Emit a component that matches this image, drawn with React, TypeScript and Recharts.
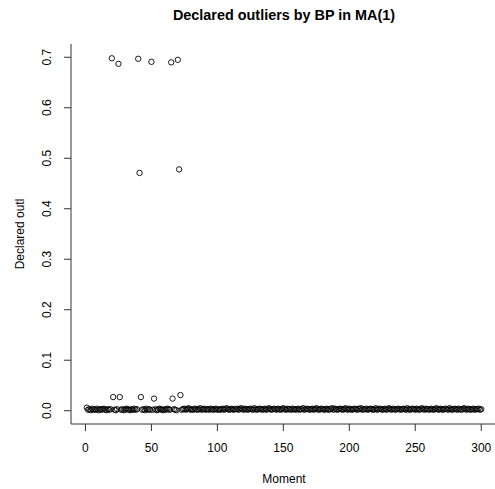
import React from "react";
import { ScatterChart, Scatter, XAxis, YAxis } from "recharts";

const TITLE = "Declared outliers by BP in MA(1)";
const X_LABEL = "Moment";
const Y_LABEL = "Declared outl";

const xTicks = [0, 50, 100, 150, 200, 250, 300];
const yTicks = [0, 0.1, 0.2, 0.3, 0.4, 0.5, 0.6, 0.7];
const yTickLabels = ["0.0", "0.1", "0.2", "0.3", "0.4", "0.5", "0.6", "0.7"];

// Declared outlier value for moments 1..300
const declared = [
  0.006, 0.002, 0.003, 0.001, 0.004, 0.002, 0.003, 0.002, 0.004, 0.001, 0.003, 0.002, 0.003, 0.004, 0.002, 0.001, 0.003, 0.002, 0.003, 0.698,
  0.027, 0.002, 0.001, 0.003, 0.687, 0.027, 0.002, 0.003, 0.001, 0.002, 0.004, 0.003, 0.002, 0.001, 0.003, 0.002, 0.004, 0.002, 0.003, 0.697,
  0.471, 0.027, 0.002, 0.003, 0.001, 0.004, 0.002, 0.003, 0.002, 0.691, 0.002, 0.024, 0.003, 0.001, 0.002, 0.004, 0.003, 0.002, 0.001, 0.003,
  0.002, 0.004, 0.003, 0.002, 0.690, 0.024, 0.003, 0.002, 0.001, 0.695, 0.478, 0.031, 0.002, 0.003, 0.004, 0.002, 0.003, 0.005, 0.003, 0.002,
  0.003, 0.002, 0.004, 0.003, 0.002, 0.003, 0.005, 0.002, 0.003, 0.004, 0.002, 0.003, 0.003, 0.002, 0.004, 0.003, 0.002, 0.003, 0.004, 0.002,
  0.003, 0.002, 0.003, 0.004, 0.002, 0.003, 0.005, 0.003, 0.002, 0.003, 0.004, 0.002, 0.003, 0.003, 0.004, 0.002, 0.003, 0.005, 0.003, 0.002,
  0.004, 0.003, 0.002, 0.003, 0.004, 0.003, 0.002, 0.005, 0.003, 0.002, 0.003, 0.004, 0.003, 0.002, 0.003, 0.004, 0.002, 0.003, 0.005, 0.003,
  0.002, 0.003, 0.004, 0.003, 0.002, 0.004, 0.003, 0.002, 0.003, 0.005, 0.003, 0.002, 0.004, 0.003, 0.003, 0.002, 0.004, 0.003, 0.002, 0.003,
  0.004, 0.002, 0.003, 0.003, 0.005, 0.002, 0.003, 0.004, 0.003, 0.002, 0.003, 0.004, 0.002, 0.003, 0.005, 0.003, 0.002, 0.003, 0.004, 0.003,
  0.002, 0.003, 0.004, 0.002, 0.003, 0.003, 0.005, 0.002, 0.004, 0.003, 0.002, 0.003, 0.004, 0.003, 0.002, 0.003, 0.005, 0.003, 0.002, 0.004,
  0.003, 0.002, 0.003, 0.004, 0.003, 0.002, 0.004, 0.003, 0.005, 0.002, 0.003, 0.003, 0.004, 0.002, 0.003, 0.004, 0.003, 0.002, 0.003, 0.005,
  0.002, 0.003, 0.004, 0.003, 0.002, 0.003, 0.004, 0.002, 0.003, 0.005, 0.003, 0.002, 0.004, 0.003, 0.002, 0.003, 0.004, 0.003, 0.002, 0.003,
  0.004, 0.003, 0.002, 0.005, 0.003, 0.002, 0.003, 0.004, 0.003, 0.002, 0.004, 0.003, 0.002, 0.003, 0.005, 0.003, 0.002, 0.004, 0.003, 0.003,
  0.002, 0.004, 0.003, 0.002, 0.003, 0.005, 0.003, 0.002, 0.004, 0.003, 0.002, 0.003, 0.004, 0.003, 0.002, 0.005, 0.003, 0.002, 0.003, 0.004,
  0.003, 0.002, 0.004, 0.003, 0.002, 0.003, 0.005, 0.003, 0.002, 0.004, 0.003, 0.002, 0.003, 0.004, 0.002, 0.003, 0.003, 0.004, 0.002, 0.003,
];

const data = declared.map((v, i) => ({ t: i + 1, v }));

const FONT = "'Liberation Sans', Arial, Helvetica, sans-serif";
const AXIS_COLOR = "#333";

const XTick = (props: any) => {
  const { x, payload } = props;
  return (
    <text x={x} y={452} textAnchor="middle" fontFamily={FONT} fontSize={12} fill="#000">
      {String(payload.value)}
    </text>
  );
};

const YTick = (props: any) => {
  const { y, payload } = props;
  const idx = yTicks.indexOf(payload.value);
  const label = idx >= 0 ? yTickLabels[idx] : String(payload.value);
  const bx = 51;
  return (
    <text
      x={bx}
      y={y}
      transform={`rotate(-90, ${bx}, ${y})`}
      textAnchor="middle"
      fontFamily={FONT}
      fontSize={12}
      fill="#000"
    >
      {label}
    </text>
  );
};

const OpenCircle = (props: any) => {
  const { cx, cy } = props;
  if (cx == null || cy == null) return null;
  return <circle cx={cx} cy={cy} r={2.7} fill="none" stroke="#000" strokeWidth={0.9} />;
};

export default function App() {
  return (
    <div
      style={{
        position: "absolute",
        left: 0,
        top: 0,
        width: 495,
        height: 489,
        overflow: "hidden",
        background: "#fff",
      }}
    >
      <ScatterChart width={497} height={489} margin={{ top: 44, right: 0, bottom: 0, left: 0 }}>
        <XAxis
          xAxisId="top"
          orientation="top"
          type="number"
          dataKey="t"
          domain={[-10.96, 311.96]}
          allowDataOverflow
          height={0}
          tick={false}
          tickLine={false}
          axisLine={{ stroke: AXIS_COLOR, strokeWidth: 1 }}
        />
        <XAxis
          type="number"
          dataKey="t"
          domain={[-10.96, 311.96]}
          allowDataOverflow
          ticks={xTicks}
          interval={0}
          height={65}
          tickSize={7}
          tick={<XTick />}
          tickLine={{ stroke: AXIS_COLOR }}
          axisLine={{ stroke: AXIS_COLOR, strokeWidth: 1 }}
        />
        <YAxis
          type="number"
          dataKey="v"
          domain={[-0.0263, 0.7263]}
          allowDataOverflow
          ticks={yTicks}
          interval={0}
          width={71}
          tickSize={7}
          tick={<YTick />}
          tickLine={{ stroke: AXIS_COLOR }}
          axisLine={{ stroke: AXIS_COLOR, strokeWidth: 1 }}
        />
        <Scatter data={data} shape={<OpenCircle />} isAnimationActive={false} />
      </ScatterChart>
      <svg
        width={495}
        height={489}
        style={{ position: "absolute", left: 0, top: 0, pointerEvents: "none" }}
      >
        <text x={284} y={19.5} textAnchor="middle" fontFamily={FONT} fontSize={14.4} fontWeight="bold" fill="#000">
          {TITLE}
        </text>
        <text x={284} y={483} textAnchor="middle" fontFamily={FONT} fontSize={12} fill="#000">
          {X_LABEL}
        </text>
        <text
          x={24}
          y={234}
          transform="rotate(-90, 24, 234)"
          textAnchor="middle"
          fontFamily={FONT}
          fontSize={12}
          fill="#000"
        >
          {Y_LABEL}
        </text>
      </svg>
    </div>
  );
}
